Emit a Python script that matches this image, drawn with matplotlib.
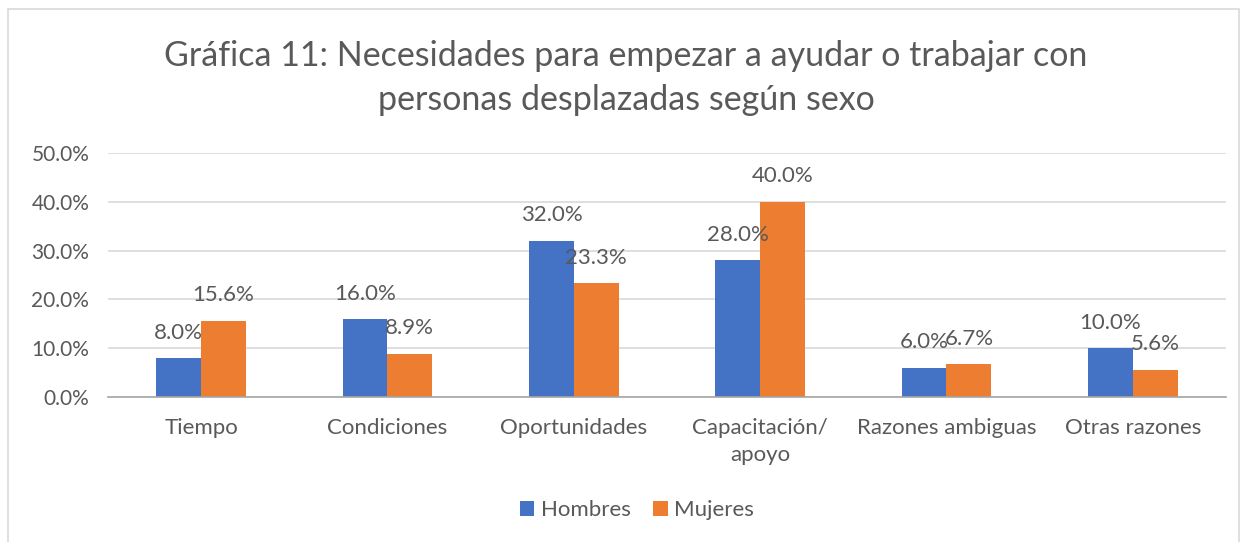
import matplotlib.pyplot as plt
from matplotlib.patches import Rectangle
import numpy as np

categories = ["Tiempo", "Condiciones", "Oportunidades", "Capacitación/\napoyo",
              "Razones ambiguas", "Otras razones"]
hombres = [8.0, 16.0, 32.0, 28.0, 6.0, 10.0]
mujeres = [15.6, 8.9, 23.3, 40.0, 6.7, 5.6]
yticks = [0, 10, 20, 30, 40, 50]

BLUE = "#4472C4"
ORANGE = "#ED7D31"
TEXT = "#595959"

plt.rcParams["font.family"] = ["Lato", "DejaVu Sans"]

W, H = 1246, 542
fig = plt.figure(figsize=(W / 100, H / 100), dpi=100)
ax = fig.add_axes([108 / W, 1 - 397 / H, (1226 - 108) / W, (397 - 153) / H])

# chart border
fig.patches.append(Rectangle((8 / W, -0.05), (1239 - 8) / W, 1.05 - 9 / H,
                             transform=fig.transFigure, fill=False,
                             edgecolor="#d9d9d9", linewidth=1.2))

x = np.arange(len(categories))
w = 0.24
b1 = ax.bar(x - w / 2, hombres, w, color=BLUE, label="Hombres", zorder=3)
b2 = ax.bar(x + w / 2, mujeres, w, color=ORANGE, label="Mujeres", zorder=3)

for bars, vals in ((b1, hombres), (b2, mujeres)):
    for bar, v in zip(bars, vals):
        ax.text(bar.get_x() + bar.get_width() / 2, v + 5.2, f"{v:.1f}%",
                ha="center", va="center", fontsize=16, color=TEXT, zorder=4)

ax.set_xlim(-0.5, len(categories) - 0.5)
ax.set_ylim(0, 50)
ax.set_yticks(yticks)
ax.set_yticklabels([f"{t:.1f}%" for t in yticks], fontsize=15, color=TEXT)
ax.set_xticks(x)
ax.set_xticklabels(categories, fontsize=16, color=TEXT, linespacing=1.45)
ax.tick_params(axis="both", length=0)
ax.tick_params(axis="y", pad=13.5)
ax.tick_params(axis="x", pad=15)
ax.grid(axis="y", color="#d9d9d9", linewidth=1.2, zorder=0)
for s in ("top", "right", "left"):
    ax.spines[s].set_visible(False)
ax.spines["bottom"].set_color("#a6a6a6")
ax.spines["bottom"].set_linewidth(1.2)
ax.spines["bottom"].set_zorder(3)

fig.text(0.5 + 3 / W, 1 - 78 / H,
         "Gráfica 11: Necesidades para empezar a ayudar o trabajar con\npersonas desplazadas según sexo",
         ha="center", va="center", fontsize=24.5, color=TEXT, linespacing=1.43)

fig.legend(handles=[b1, b2], loc="center", bbox_to_anchor=(637 / W, 1 - 510 / H),
           ncol=2, frameon=False, fontsize=16, labelcolor=TEXT,
           handlelength=0.65, handleheight=0.65, handletextpad=0.3,
           columnspacing=1.0)

fig.savefig("out.png", dpi=100)
